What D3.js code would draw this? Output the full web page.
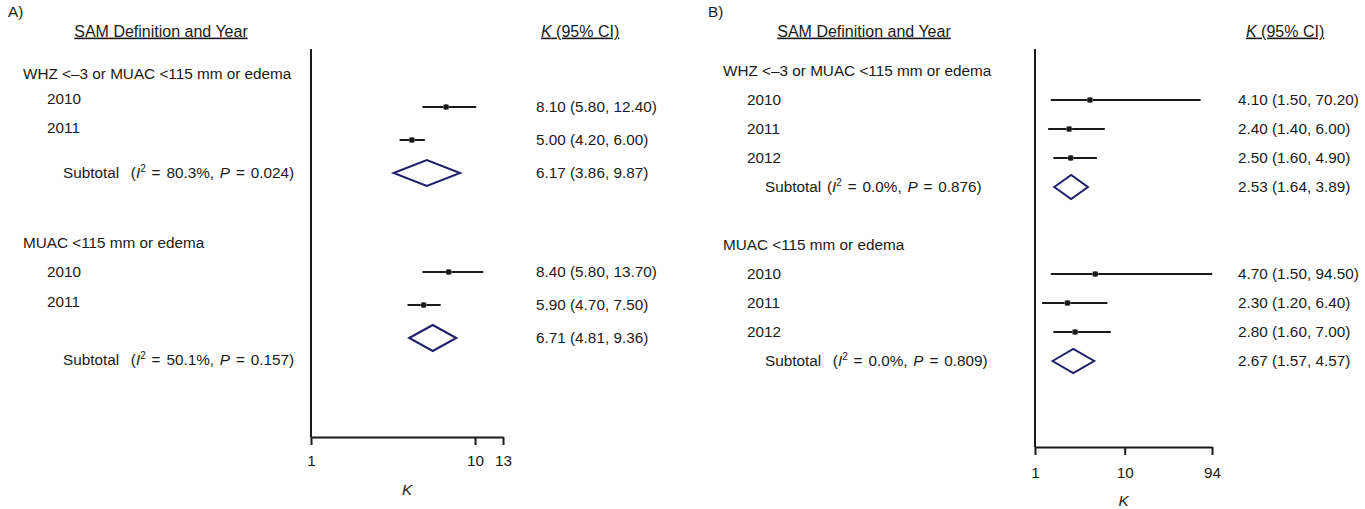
<!DOCTYPE html>
<html>
<head>
<meta charset="utf-8">
<script src="https://cdn.jsdelivr.net/npm/d3@7"></script>
<style>
  body { margin: 0; background: #fff; }
  svg text { font-family: "Liberation Sans", Arial, sans-serif; font-size: 15.3px; fill: #1a1a1a; white-space: pre; }
</style>
</head>
<body>
<svg id="svg1" width="1365" height="509"></svg>
<script>
// panel A: WHZ/MUAC vs MUAC only, 2010-2011
var groupNamesA = ["WHZ <\u20133 or MUAC <115 mm or edema", "MUAC <115 mm or edema"];
var yearsA = [["2010", "2011"], ["2010", "2011"]];
var estA = [[8.10, 5.00], [8.40, 5.90]];
var lowA = [[5.80, 4.20], [5.80, 4.70]];
var highA = [[12.40, 6.00], [13.70, 7.50]];
var subEstA = [6.17, 6.71];
var subLowA = [3.86, 4.81];
var subHighA = [9.87, 9.36];
var i2A = ["80.3", "50.1"];
var pA = ["0.024", "0.157"];
var ticksA = [1, 10, 13];

// panel B: 2010-2012
var groupNamesB = ["WHZ <\u20133 or MUAC <115 mm or edema", "MUAC <115 mm or edema"];
var yearsB = [["2010", "2011", "2012"], ["2010", "2011", "2012"]];
var estB = [[4.10, 2.40, 2.50], [4.70, 2.30, 2.80]];
var lowB = [[1.50, 1.40, 1.60], [1.50, 1.20, 1.60]];
var highB = [[70.20, 6.00, 4.90], [94.50, 6.40, 7.00]];
var subEstB = [2.53, 2.67];
var subLowB = [1.64, 1.57];
var subHighB = [3.89, 4.57];
var i2B = ["0.0", "0.0"];
var pB = ["0.876", "0.809"];
var ticksB = [1, 10, 94];

var svg = d3.select("#svg1");
var fmt = d3.format(".2f");
var ink = "#1a1a1a", navy = "#1f1f6b";

function drawPanel(p) {
    var g = svg.append("g");
    var rowY = d3.scaleLinear().domain([0, 1]).range([p.row0, p.row0 + p.rowStep]);

    g.append("text").attr("x", p.left - 15).attr("y", 12).attr("dy", "0.35em").text(p.letter);
    g.append("text").attr("x", p.samX).attr("y", 31).attr("dy", "0.35em")
        .attr("text-anchor", "middle").style("font-size", "16px").style("text-decoration", "underline")
        .text("SAM Definition and Year");
    var kh = g.append("text").attr("x", p.kX).attr("y", 31).attr("dy", "0.35em")
        .style("font-size", "16px").style("text-decoration", "underline");
    kh.append("tspan").style("font-style", "italic").text("K");
    kh.append("tspan").text(" (95% CI)");

    // null line + axis
    g.append("line").attr("x1", p.axisScale(1)).attr("x2", p.axisScale(1))
        .attr("y1", 49).attr("y2", p.axisY).attr("stroke", ink).attr("stroke-width", 2);
    var ax = g.append("g").attr("transform", "translate(0," + p.axisY + ")")
        .call(d3.axisBottom(p.axisScale).tickValues(p.ticks).tickFormat(d3.format("d"))
            .tickSize(8).tickSizeOuter(0).tickPadding(p.tickPad));
    ax.select(".domain").attr("stroke", ink).attr("stroke-width", 2);
    ax.selectAll(".tick line").attr("stroke", ink).attr("stroke-width", 2);
    ax.selectAll(".tick text").attr("font-size", null).attr("font-family", null).attr("fill", ink);
    var r = p.axisScale.range();
    g.append("text").attr("x", (r[0] + r[1]) / 2).attr("y", p.kY).attr("dy", "0.35em")
        .attr("text-anchor", "middle").style("font-style", "italic").text("K");

    p.groups.forEach(function (name, gi) {
        var base = gi * p.groupRows;
        var lab = p.labelRows[gi];
        g.append("text").attr("x", p.left).attr("y", rowY(lab[0])).attr("dy", "0.35em").text(name);

        p.years[gi].forEach(function (yr, i) {
            var y = rowY(base + i);
            g.append("text").attr("x", p.left + 24).attr("y", rowY(lab[i + 1])).attr("dy", "0.35em").text(yr);
            g.append("line").attr("x1", p.x(p.low[gi][i])).attr("x2", p.x(p.high[gi][i]))
                .attr("y1", y).attr("y2", y).attr("stroke", ink).attr("stroke-width", 2);
            g.append("rect").attr("x", p.x(p.est[gi][i]) - 3).attr("y", y - 3)
                .attr("width", 6).attr("height", 6).attr("fill", "#c4c4c4");
            g.append("circle").attr("cx", p.x(p.est[gi][i])).attr("cy", y).attr("r", 2.8).attr("fill", ink);
            g.append("text").attr("x", p.valX).attr("y", y).attr("dy", "0.35em")
                .text(fmt(p.est[gi][i]) + " (" + fmt(p.low[gi][i]) + ", " + fmt(p.high[gi][i]) + ")");
        });

        var n = p.years[gi].length;
        var ys = rowY(base + n);
        var h = p.diamondH;
        var pts = [[p.x(p.subLow[gi]), ys], [p.x(p.subEst[gi]), ys - h],
                   [p.x(p.subHigh[gi]), ys], [p.x(p.subEst[gi]), ys + h]];
        g.append("path").attr("d", d3.line()(pts) + "Z")
            .attr("fill", "none").attr("stroke", navy).attr("stroke-width", 2);
        g.append("text").attr("x", p.valX).attr("y", ys).attr("dy", "0.35em")
            .text(fmt(p.subEst[gi]) + " (" + fmt(p.subLow[gi]) + ", " + fmt(p.subHigh[gi]) + ")");

        var st = g.append("text").attr("x", p.left + p.subIndent).attr("y", rowY(lab[n + 1]))
            .attr("dy", "0.35em").style("word-spacing", "1.6px");
        st.append("tspan").text(p.subGap[gi] ? "Subtotal  (" : "Subtotal (");
        st.append("tspan").style("font-style", "italic").text("I");
        st.append("tspan").attr("font-size", "10px").attr("dy", -6).text("2");
        st.append("tspan").attr("dy", 6).text(" = " + p.i2[gi] + "%, ");
        st.append("tspan").style("font-style", "italic").text("P");
        st.append("tspan").text(" = " + p.p[gi] + ")");
    });
}

drawPanel({
    letter: "A)", left: 23, samX: 161, kX: 541, valX: 536, subIndent: 40,
    row0: 107, rowStep: 33, groupRows: 5, diamondH: 13,
    labelRows: [[-1, -0.25, 0.64, 2], [4.1, 5, 5.9, 7.65]],
    subGap: [true, true],
    x: d3.scaleLog().domain([1, 10]).range([298, 461]),
    axisScale: d3.scaleSymlog().constant(2.6).domain([1, 13]).range([311, 503]),
    axisY: 437, tickPad: 10, kY: 490, ticks: ticksA,
    groups: groupNamesA, years: yearsA, est: estA, low: lowA, high: highA,
    subEst: subEstA, subLow: subLowA, subHigh: subHighA, i2: i2A, p: pA
});

var xB = d3.scaleLog().domain([1, 94]).range([1035, 1212]);
drawPanel({
    letter: "B)", left: 723, samX: 864, kX: 1246, valX: 1238, subIndent: 42,
    row0: 100, rowStep: 29, groupRows: 6, diamondH: 12,
    labelRows: [[-1, 0, 1, 2, 3], [5, 6, 7, 8, 9]],
    subGap: [false, true],
    x: xB, axisScale: xB,
    axisY: 447, tickPad: 12, kY: 501, ticks: ticksB,
    groups: groupNamesB, years: yearsB, est: estB, low: lowB, high: highB,
    subEst: subEstB, subLow: subLowB, subHigh: subHighB, i2: i2B, p: pB
});
</script>
</body>
</html>
